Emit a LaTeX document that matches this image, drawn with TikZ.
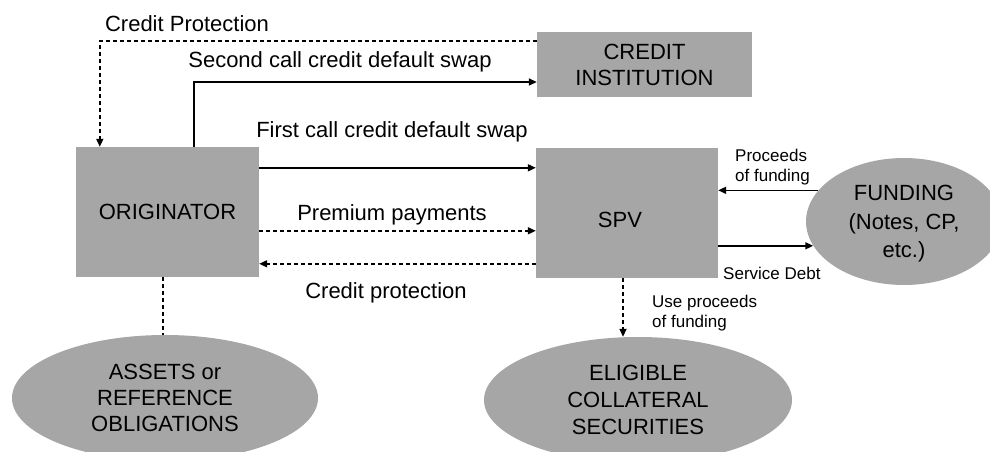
\documentclass[tikz,border=0pt]{standalone}
\usepackage{fontspec}
\setmainfont{Liberation Sans}
\usetikzlibrary{arrows.meta,shapes.geometric}
\definecolor{boxgray}{RGB}{166,166,166}
\begin{document}
\begin{tikzpicture}[x=1pt,y=-1pt,
 box/.style={draw=none,fill=boxgray,rectangle,inner sep=0,align=center,font=\fontsize{22}{26}\selectfont},
 oval/.style={draw=none,fill=boxgray,ellipse,inner sep=0,align=center,font=\fontsize{22}{26}\selectfont},
 big/.style={font=\fontsize{22}{26}\selectfont,inner sep=0,align=center},
 small/.style={font=\fontsize{17}{20}\selectfont,inner sep=0,align=left},
 conn/.style={line width=1.6pt,-{Triangle[length=8pt,width=7pt]}},
 dconn/.style={conn,dash pattern=on 4pt off 3pt},
 dline/.style={line width=1.6pt,dash pattern=on 4pt off 3pt},
]
\useasboundingbox (0,0) rectangle (990,452);
\clip (0,0) rectangle (990,452);

% nodes
\node[box,minimum width=183pt,minimum height=130pt] (orig) at (167.5,212) {ORIGINATOR};
\node[box,minimum width=182pt,minimum height=130pt] (spv) at (627,213) {};
\node[big] (spvtxt) at (620,220) {SPV};
\node[box,minimum width=215pt,minimum height=65pt] (ci) at (644.5,64.5) {CREDIT\\INSTITUTION};
\node[oval,minimum width=196pt,minimum height=127pt] (fund) at (904,221.5) {};
\node[big,font=\fontsize{22}{28.5}\selectfont] (fundtxt) at (904,224) {FUNDING\\(Notes, CP,\\etc.)};
\node[oval,minimum width=306pt,minimum height=126pt] (assets) at (165,398) {ASSETS or\\REFERENCE\\OBLIGATIONS};
\node[oval,minimum width=308pt,minimum height=126pt,font=\fontsize{22}{27}\selectfont] (elig) at (638,400) {ELIGIBLE\\COLLATERAL\\SECURITIES};

% labels
\node[big] (lcp) at (187,24) {Credit Protection};
\node[big] (lsc) at (340,62) {Second call credit default swap};
\node[big] (lfc) at (392,132) {First call credit default swap};
\node[big] (lpp) at (392,215) {Premium payments};
\node[big] (lcpb) at (386,293) {Credit protection};
\node[small,anchor=west] (lpf) at (735,167) {Proceeds\\of funding};
\node[small,anchor=west] (lsd) at (723,273) {Service Debt};
\node[small,anchor=west] (lup) at (652,313) {Use proceeds\\of funding};

% connectors
\coordinate (cpA) at ([yshift=-9pt]ci.north west);
\coordinate (cpB) at ([xshift=24pt]orig.north west);
\draw[dconn] (cpA) -| (cpB);

\coordinate (scA) at ([xshift=118pt]orig.north west);
\coordinate (scB) at ([yshift=-17.5pt]ci.west);
\draw[conn] (scA) |- (scB);

\coordinate (fcA) at ([yshift=-21pt]orig.north east);
\draw[conn] (fcA) -- (fcA -| spv.west);

\coordinate (ppA) at ([yshift=-84pt]orig.north east);
\draw[dconn] (ppA) -- (ppA -| spv.west);

\coordinate (cbA) at ([yshift=-116pt]spv.north west);
\draw[dconn] (cbA) -- (cbA -| orig.east);

\draw[conn] (fund.160) -- (fund.160 -| spv.east);
\draw[conn] (fund.195.5 -| spv.east) -- (fund.195.5);

\coordinate (upA) at ([xshift=-4pt]spv.south);
\draw[dconn] (upA) -- (upA |- elig.north);

\coordinate (oaA) at ([xshift=-4.5pt]orig.south);
\draw[dline] (oaA) -- (oaA |- assets.north);
\end{tikzpicture}
\end{document}
